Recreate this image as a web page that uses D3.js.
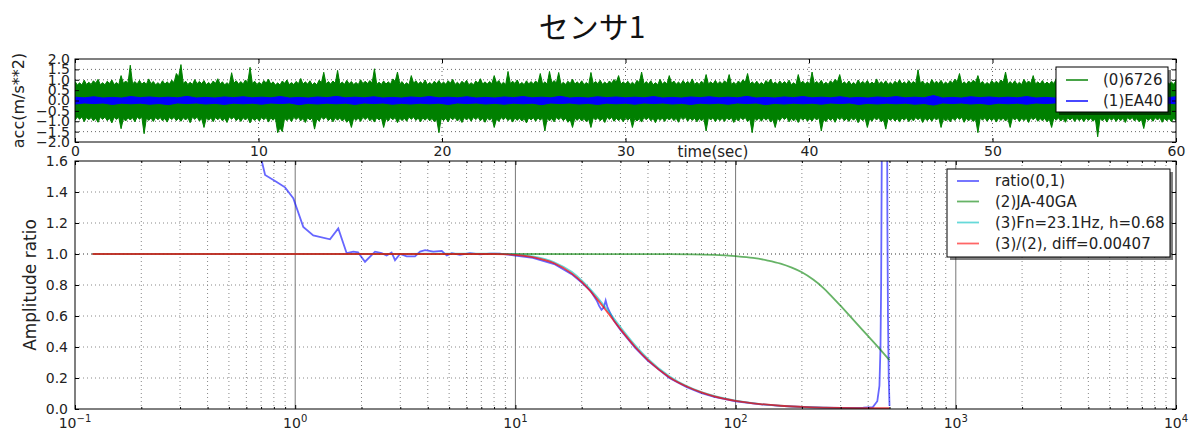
<!DOCTYPE html>
<html>
<head>
<meta charset="utf-8">
<script src="https://cdn.jsdelivr.net/npm/d3@7"></script>
<style>
html, body { margin: 0; padding: 0; background: #fff; }
svg { display: block; font-family: "DejaVu Sans", sans-serif; }
</style>
</head>
<body>
<svg id="chart" width="1196" height="432"></svg>
<script>
// ---- top panel: acceleration envelopes, one value per 0.25 s bin (m/s**2)
const ch0Hi = [
  0.92,0.85,0.98,0.88,0.95,1.02,0.86,0.93,0.99,0.87, 1.20,0.94,1.70,0.91,0.97,0.89,1.04,0.92,0.86,0.95,
  0.90,0.98,1.30,1.73,0.93,0.88,1.01,0.92,0.96,0.87, 0.94,1.05,0.90,0.86,1.34,0.95,0.91,0.99,1.60,0.93,
  0.88,0.96,1.03,0.90,0.85,0.94,0.99,0.87,0.92,1.06, 0.90,0.95,0.86,0.98,1.36,0.91,0.94,1.45,0.89,0.97,
  0.92,0.87,1.00,0.93,0.96,1.53,0.88,0.94,0.90,1.04, 1.37,0.91,0.86,1.20,0.95,0.90,0.99,0.87,0.93,0.96,
  0.89,0.95,1.02,0.88,0.93,0.97,0.86,0.94,1.05,0.90, 0.92,1.20,0.96,0.88,1.40,0.93,0.99,0.87,0.95,0.91,
  0.94,1.30,0.90,1.40,0.96,1.35,0.88,0.93,1.03,0.90, 0.95,0.87,1.35,0.92,0.98,0.89,0.94,1.01,1.20,0.90,
  0.93,0.88,0.97,1.37,0.91,0.95,0.86,1.02,0.90,1.20, 0.94,0.89,0.96,0.92,1.04,0.88,0.93,1.25,0.90,0.97,
  0.91,0.95,1.25,0.88,0.94,1.00,1.30,0.90,0.93,0.87, 0.96,1.03,0.89,0.94,0.91,0.98,0.86,1.25,0.93,0.90,
  1.37,0.92,0.97,0.88,0.95,1.02,1.25,0.90,0.94,0.87, 0.99,0.92,0.96,0.89,1.04,0.91,0.95,0.88,0.93,1.00,
  0.90,0.96,0.92,1.48,0.94,0.88,1.01,0.93,0.97,0.89, 0.95,1.03,1.30,0.90,0.94,0.98,1.20,0.92,0.87,0.96,
  0.93,0.99,1.37,0.91,0.95,0.88,1.02,0.94,1.20,0.90, 0.96,0.89,0.93,1.05,0.91,0.97,1.30,0.92,0.88,0.95,
  0.90,0.97,0.93,1.01,0.88,0.95,0.92,0.99,1.25,0.91, 0.94,0.87,1.03,0.93,0.96,0.90,1.20,0.94,0.89,0.95
];
const ch0Lo = [
  -0.95,-0.90,-1.02,-0.93,-0.98,-1.05,-0.91,-0.97,-1.08,-0.92, -1.36,-0.99,-0.94,-1.03,-0.90,-1.60,-0.96,-1.01,-0.93,-0.98,
  -1.04,-0.92,-0.97,-1.00,-0.94,-1.07,-0.91,-0.99,-1.30,-0.95, -1.02,-0.93,-0.98,-1.06,-0.90,-0.97,-1.01,-0.94,-1.08,-0.96,
  -0.99,-0.93,-1.04,-0.95,-1.55,-1.50,-0.97,-1.02,-0.92,-0.98, -1.06,-0.94,-1.38,-1.00,-0.91,-0.97,-1.03,-0.95,-0.99,-1.05,
  -1.30,-0.96,-1.01,-0.92,-0.98,-1.04,-0.94,-1.30,-0.99,-0.93, -1.07,-0.97,-1.00,-0.91,-0.96,-1.03,-0.95,-0.98,-1.02,-1.55,
  -0.97,-1.03,-0.93,-0.99,-1.06,-0.94,-1.00,-0.92,-0.98,-1.05, -0.95,-1.30,-1.01,-0.93,-0.97,-1.04,-0.96,-0.99,-1.08,-0.94,
  -1.00,-0.95,-1.47,-0.98,-1.03,-0.93,-0.97,-1.05,-1.30,-0.96, -0.99,-1.02,-1.30,-0.94,-0.98,-1.06,-0.92,-1.00,-0.97,-1.03,
  -0.95,-1.30,-0.99,-1.04,-0.93,-0.98,-1.07,-0.96,-1.01,-0.94, -0.97,-1.05,-0.92,-1.00,-0.96,-1.03,-0.98,-1.47,-0.94,-1.02,
  -0.97,-1.01,-0.94,-1.06,-0.99,-0.93,-1.02,-1.55,-0.96,-1.00, -0.95,-1.04,-1.30,-0.97,-0.92,-1.03,-0.98,-1.06,-0.95,-1.00,
  -0.99,-0.94,-1.47,-1.02,-0.96,-1.05,-0.93,-0.98,-1.01,-0.95, -1.07,-0.97,-1.30,-1.00,-0.94,-1.03,-1.38,-0.96,-0.99,-1.04,
  -0.95,-1.02,-0.98,-0.93,-1.06,-0.97,-1.00,-0.94,-1.30,-0.99, -1.03,-0.96,-0.92,-1.05,-0.98,-1.01,-1.55,-0.95,-1.00,-0.97,
  -1.04,-0.96,-0.99,-1.30,-0.94,-1.02,-0.97,-1.06,-0.93,-1.00, -0.98,-1.03,-1.30,-0.95,-0.99,-1.05,-0.94,-1.01,-0.97,-1.02,
  -0.96,-1.00,-1.75,-0.98,-1.04,-0.95,-1.01,-0.97,-1.06,-0.93, -0.99,-1.03,-1.35,-0.96,-1.00,-0.94,-1.05,-0.98,-1.02,-0.97
];
// one value per 1 s bin
const ch1Hi = [
  0.16,0.18,0.15,0.19,0.17,0.16,0.20,0.15,0.17,0.18, 0.16,0.19,0.15,0.17,0.20,0.16,0.18,0.15,0.17,0.19,
  0.16,0.18,0.15,0.17,0.19,0.16,0.20,0.15,0.18,0.17, 0.16,0.19,0.15,0.17,0.18,0.16,0.20,0.15,0.17,0.19,
  0.16,0.18,0.15,0.17,0.19,0.16,0.24,0.15,0.18,0.17, 0.16,0.19,0.15,0.17,0.18,0.16,0.20,0.15,0.17,0.18
];
const ch1Lo = [
  -0.17,-0.15,-0.19,-0.16,-0.18,-0.20,-0.15,-0.17,-0.19,-0.16, -0.18,-0.15,-0.20,-0.17,-0.16,-0.19,-0.15,-0.18,-0.17,-0.16,
  -0.19,-0.15,-0.17,-0.18,-0.16,-0.20,-0.15,-0.17,-0.19,-0.16, -0.18,-0.15,-0.17,-0.19,-0.16,-0.18,-0.15,-0.20,-0.17,-0.16,
  -0.18,-0.15,-0.19,-0.17,-0.16,-0.18,-0.22,-0.15,-0.17,-0.19, -0.16,-0.18,-0.15,-0.17,-0.19,-0.16,-0.18,-0.15,-0.17,-0.16
];
const topSeries = ['(0)6726', '(1)EA40'];
const timeTicks = [0, 10, 20, 30, 40, 50, 60];
const accTicks = [-2, -1.5, -1, -0.5, 0, 0.5, 1, 1.5, 2];

// ---- bottom panel: amplitude ratio vs frequency (Hz)
const ratioFreq = [0.69,0.705,0.73,0.824,0.899,0.98,1.088,1.208,1.439,1.569,1.713,1.835,1.93,2.075,2.304,2.47,2.6,2.74,2.84,2.99,
  3.21,3.5,3.69,3.89,4.24,4.63,4.88,5.14,5.6,6.22,6.9,7.67,8.5,10,12,15,18,20,22,23.4,24,24.6,25.2,25.7,26.2,28,30,35,40,50,
  60,70,80,100,130,160,200,250,300,380,420,440,450,455,458,461,463,487,489,492,496,500];
const ratioVal = [1.75,1.6,1.51,1.465,1.43,1.36,1.175,1.12,1.095,1.165,1.005,1.015,1.01,0.95,1.015,1.005,0.99,1.01,0.96,1.0,
  0.985,0.985,1.015,1.025,1.015,1.02,0.99,1.005,0.995,1.005,0.998,1.003,1.002,0.99,0.975,0.935,0.87,0.815,0.76,0.70,0.665,0.64,0.655,0.70,0.655,0.57,0.51,0.395,0.31,0.2,
  0.14,0.103,0.078,0.05,0.03,0.02,0.013,0.009,0.007,0.008,0.012,0.05,0.15,0.4,0.8,1.6,2.2,2.2,1.2,0.6,0.2,0.02];
const ja40Freq = [0.12,1,10,50,80,100,120,140,160,180,200,225,250,275,300,350,400,450,500];
const ja40Val  = [1,1,1,0.999,0.994,0.986,0.975,0.958,0.938,0.912,0.882,0.835,0.782,0.722,0.665,0.56,0.47,0.39,0.315];
const modelFreq = [0.12,0.5,1,2,5,8,10,12,15,18,20,23,26,30,35,40,50,60,70,80,100,130,160,200,250,300,400,500];
const fitVal    = [1,1,1,1,1.002,1.002,0.997,0.984,0.947,0.885,0.83,0.738,0.644,0.528,0.411,0.324,0.212,0.148,0.109,0.084,0.054,0.032,0.021,0.013,0.009,0.006,0.003,0.002];
const fitDivVal = [1,1,1,1,1,1,0.995,0.98,0.94,0.875,0.82,0.725,0.63,0.515,0.40,0.315,0.205,0.145,0.107,0.082,0.053,0.032,0.021,0.014,0.009,0.007,0.006,0.006];
const ampTicks = [0, 0.2, 0.4, 0.6, 0.8, 1.0, 1.2, 1.4, 1.6];
const decades = [-1, 0, 1, 2, 3, 4];
const bottomSeries = ['ratio(0,1)', '(2)JA-40GA', '(3)Fn=23.1Hz, h=0.68', '(3)/(2), diff=0.00407'];

const svg = d3.select('#chart');
const L = 75, R = 1176;
const pTop = { y0: 59, y1: 142 }, pBot = { y0: 161, y1: 409 };

const xT = d3.scaleLinear().domain([0, 60]).range([L, R]);
const yT = d3.scaleLinear().domain([-2, 2]).range([pTop.y1, pTop.y0]);
const xB = d3.scaleLog().domain([0.1, 1e4]).range([L, R]);
const yB = d3.scaleLinear().domain([0, 1.6]).range([pBot.y1, pBot.y0]);

const defs = svg.append('defs');
defs.append('clipPath').attr('id', 'clipT').append('rect')
  .attr('x', L).attr('y', pTop.y0).attr('width', R - L).attr('height', pTop.y1 - pTop.y0);
defs.append('clipPath').attr('id', 'clipB').append('rect')
  .attr('x', L).attr('y', pBot.y0).attr('width', R - L).attr('height', pBot.y1 - pBot.y0);

// title
svg.append('text').attr('x', 592).attr('y', 38).attr('text-anchor', 'middle')
  .attr('font-family', '"Noto Sans CJK JP", sans-serif').attr('font-size', 30).attr('fill', '#111')
  .text('センサ1');

const dotted = '1,3';

// ---------- top panel ----------
const gT = svg.append('g');
gT.selectAll('.gy').data(accTicks.filter(v => v > -2 && v < 2)).enter().append('line')
  .attr('x1', L).attr('x2', R).attr('y1', d => yT(d)).attr('y2', d => yT(d))
  .attr('stroke', '#666').attr('stroke-dasharray', dotted);
gT.selectAll('.gx').data(timeTicks.slice(1, -1)).enter().append('line')
  .attr('y1', pTop.y0).attr('y2', pTop.y1).attr('x1', d => xT(d)).attr('x2', d => xT(d))
  .attr('stroke', '#666').attr('stroke-dasharray', dotted);

const plotT = gT.append('g').attr('clip-path', 'url(#clipT)');
// envelope points; between two bins the edge falls back toward the smaller one so spikes stay narrow
function bandPoints(hi, lo, dip) {
  const n = hi.length, dt = 60 / (n - 1), pts = [];
  for (let i = 0; i < n; i++) {
    pts.push({ t: i * dt, hi: hi[i], lo: lo[i] });
    if (i < n - 1) pts.push({ t: (i + 0.5) * dt,
      hi: Math.min(hi[i], hi[i + 1]) * dip, lo: Math.max(lo[i], lo[i + 1]) * dip });
  }
  return pts;
}
const band = d3.area().x(d => xT(d.t)).y0(d => yT(d.lo)).y1(d => yT(d.hi));
plotT.append('path').attr('d', band(bandPoints(ch0Hi, ch0Lo, 0.88)))
  .attr('fill', '#008000').attr('stroke', '#008000').attr('stroke-width', 1);
plotT.append('path').attr('d', band(bandPoints(ch1Hi, ch1Lo, 0.8)))
  .attr('fill', '#0000ff').attr('stroke', '#0000ff').attr('stroke-width', 1);

// ticks
function styleAxis(g, size) {
  g.select('.domain').remove();
  g.selectAll('.tick line').attr('stroke', '#000');
  g.selectAll('.tick text').attr('font-size', size).attr('fill', '#222')
    .attr('font-family', '"DejaVu Sans", sans-serif');
}
svg.append('g').attr('transform', `translate(0,${pTop.y1})`)
  .call(d3.axisBottom(xT).tickValues(timeTicks).tickSize(-4).tickPadding(4).tickFormat(d3.format('d')))
  .call(g => styleAxis(g, 14));
svg.append('g').attr('transform', `translate(0,${pTop.y0})`)
  .call(d3.axisTop(xT).tickValues(timeTicks).tickSize(-4).tickFormat(''))
  .call(g => styleAxis(g, 14));
svg.append('g').attr('transform', `translate(${L},0)`)
  .call(d3.axisLeft(yT).tickValues(accTicks).tickSize(-4).tickPadding(5).tickFormat(d3.format('.1f')))
  .call(g => styleAxis(g, 14));
svg.append('g').attr('transform', `translate(${R},0)`)
  .call(d3.axisRight(yT).tickValues(accTicks).tickSize(-4).tickFormat(''))
  .call(g => styleAxis(g, 14));

svg.append('text').attr('x', 713).attr('y', 157).attr('text-anchor', 'middle')
  .attr('font-size', 15).attr('fill', '#222').text('time(sec)');
svg.append('text').attr('transform', `translate(24,${(pTop.y0 + pTop.y1) / 2}) rotate(-90)`)
  .attr('text-anchor', 'middle').attr('font-size', 16).attr('fill', '#222').text('acc(m/s**2)');

// ---------- bottom panel ----------
const gB = svg.append('g');
const minor = [];
decades.slice(0, -1).forEach(k => { for (let m = 2; m <= 9; m++) minor.push(m * Math.pow(10, k)); });
gB.selectAll('.gm').data(minor).enter().append('line')
  .attr('y1', pBot.y0).attr('y2', pBot.y1).attr('x1', d => xB(d)).attr('x2', d => xB(d))
  .attr('stroke', '#888').attr('stroke-dasharray', dotted);
gB.selectAll('.gd').data(decades.slice(1, -1)).enter().append('line')
  .attr('y1', pBot.y0).attr('y2', pBot.y1).attr('x1', d => xB(Math.pow(10, d))).attr('x2', d => xB(Math.pow(10, d)))
  .attr('stroke', '#777').attr('stroke-width', 1);
gB.selectAll('.gh').data(ampTicks.slice(1, -1)).enter().append('line')
  .attr('x1', L).attr('x2', R).attr('y1', d => yB(d)).attr('y2', d => yB(d))
  .attr('stroke', d => d === 1 ? '#333' : '#888').attr('stroke-dasharray', dotted);

const plotB = gB.append('g').attr('clip-path', 'url(#clipB)');
const lineB = (fs, vs, curve) => d3.line().curve(curve || d3.curveLinear)
  .x((d, i) => xB(fs[i])).y((d, i) => yB(vs[i]))(vs);
const botColors = ['#0000ff', '#008000', '#00bfbf', '#ff0000'];
plotB.append('path').attr('d', lineB(ratioFreq, ratioVal)).attr('fill', 'none')
  .attr('stroke', botColors[0]).attr('stroke-opacity', 0.6).attr('stroke-width', 1.8);
plotB.append('path').attr('d', lineB(ja40Freq, ja40Val, d3.curveMonotoneX)).attr('fill', 'none')
  .attr('stroke', botColors[1]).attr('stroke-opacity', 0.6).attr('stroke-width', 1.8);
plotB.append('path').attr('d', lineB(modelFreq, fitVal, d3.curveMonotoneX)).attr('fill', 'none')
  .attr('stroke', botColors[2]).attr('stroke-opacity', 0.6).attr('stroke-width', 1.8);
plotB.append('path').attr('d', lineB(modelFreq, fitDivVal, d3.curveMonotoneX)).attr('fill', 'none')
  .attr('stroke', botColors[3]).attr('stroke-opacity', 0.7).attr('stroke-width', 1.8);

const decadeVals = decades.map(k => Math.pow(10, k));
svg.append('g').attr('transform', `translate(0,${pBot.y1})`)
  .call(d3.axisBottom(xB).tickValues(decadeVals).tickSize(-4).tickFormat(''))
  .call(g => styleAxis(g, 14));
svg.append('g').attr('transform', `translate(0,${pBot.y1})`)
  .call(d3.axisBottom(xB).tickValues(minor).tickSize(-2).tickFormat(''))
  .call(g => styleAxis(g, 14));
svg.append('g').attr('transform', `translate(0,${pBot.y0})`)
  .call(d3.axisTop(xB).tickValues(decadeVals).tickSize(-4).tickFormat(''))
  .call(g => styleAxis(g, 14));
svg.append('g').attr('transform', `translate(0,${pBot.y0})`)
  .call(d3.axisTop(xB).tickValues(minor).tickSize(-2).tickFormat(''))
  .call(g => styleAxis(g, 14));
svg.append('g').attr('transform', `translate(${L},0)`)
  .call(d3.axisLeft(yB).tickValues(ampTicks).tickSize(-4).tickPadding(7).tickFormat(d3.format('.1f')))
  .call(g => styleAxis(g, 14));
svg.append('g').attr('transform', `translate(${R},0)`)
  .call(d3.axisRight(yB).tickValues(ampTicks).tickSize(-4).tickFormat(''))
  .call(g => styleAxis(g, 14));

const xl = svg.append('g').selectAll('text').data(decades).enter().append('text')
  .attr('x', d => xB(Math.pow(10, d))).attr('y', 428).attr('text-anchor', 'middle')
  .attr('font-size', 14).attr('fill', '#222');
xl.append('tspan').text('10');
xl.append('tspan').attr('dy', -6).attr('font-size', 10).text(d => String(d).replace('-', '\u2212'));

svg.append('text').attr('transform', `translate(36,${(pBot.y0 + pBot.y1) / 2}) rotate(-90)`)
  .attr('text-anchor', 'middle').attr('font-size', 17).attr('fill', '#222').text('Amplitude ratio');

// frames
[pTop, pBot].forEach(p => svg.append('rect').attr('x', L).attr('y', p.y0)
  .attr('width', R - L).attr('height', p.y1 - p.y0)
  .attr('fill', 'none').attr('stroke', '#000').attr('stroke-width', 1));

// legends
function legend(x, y, w, h, rowY, names, colors, opacity, textX) {
  const g = svg.append('g');
  g.append('rect').attr('x', x + 3).attr('y', y + 3).attr('width', w).attr('height', h)
    .attr('fill', '#000').attr('opacity', 0.5);
  g.append('rect').attr('x', x).attr('y', y).attr('width', w).attr('height', h)
    .attr('fill', '#fff').attr('stroke', '#000').attr('stroke-width', 1);
  names.forEach((n, i) => {
    const yy = y + rowY[i];
    g.append('line').attr('x1', x + 10).attr('x2', x + 32).attr('y1', yy).attr('y2', yy)
      .attr('stroke', colors[i]).attr('stroke-opacity', opacity).attr('stroke-width', 1.8);
    g.append('text').attr('x', textX).attr('y', yy + 5).attr('font-size', 15).attr('fill', '#222').text(n);
  });
}
legend(1056, 67, 112, 45, [13, 34], topSeries, ['#008000', '#0000ff'], 0.8, 1103);
legend(947, 169, 223, 88, [12, 32.5, 53.5, 74.5], bottomSeries, botColors, 0.6, 995);
</script>
</body>
</html>
